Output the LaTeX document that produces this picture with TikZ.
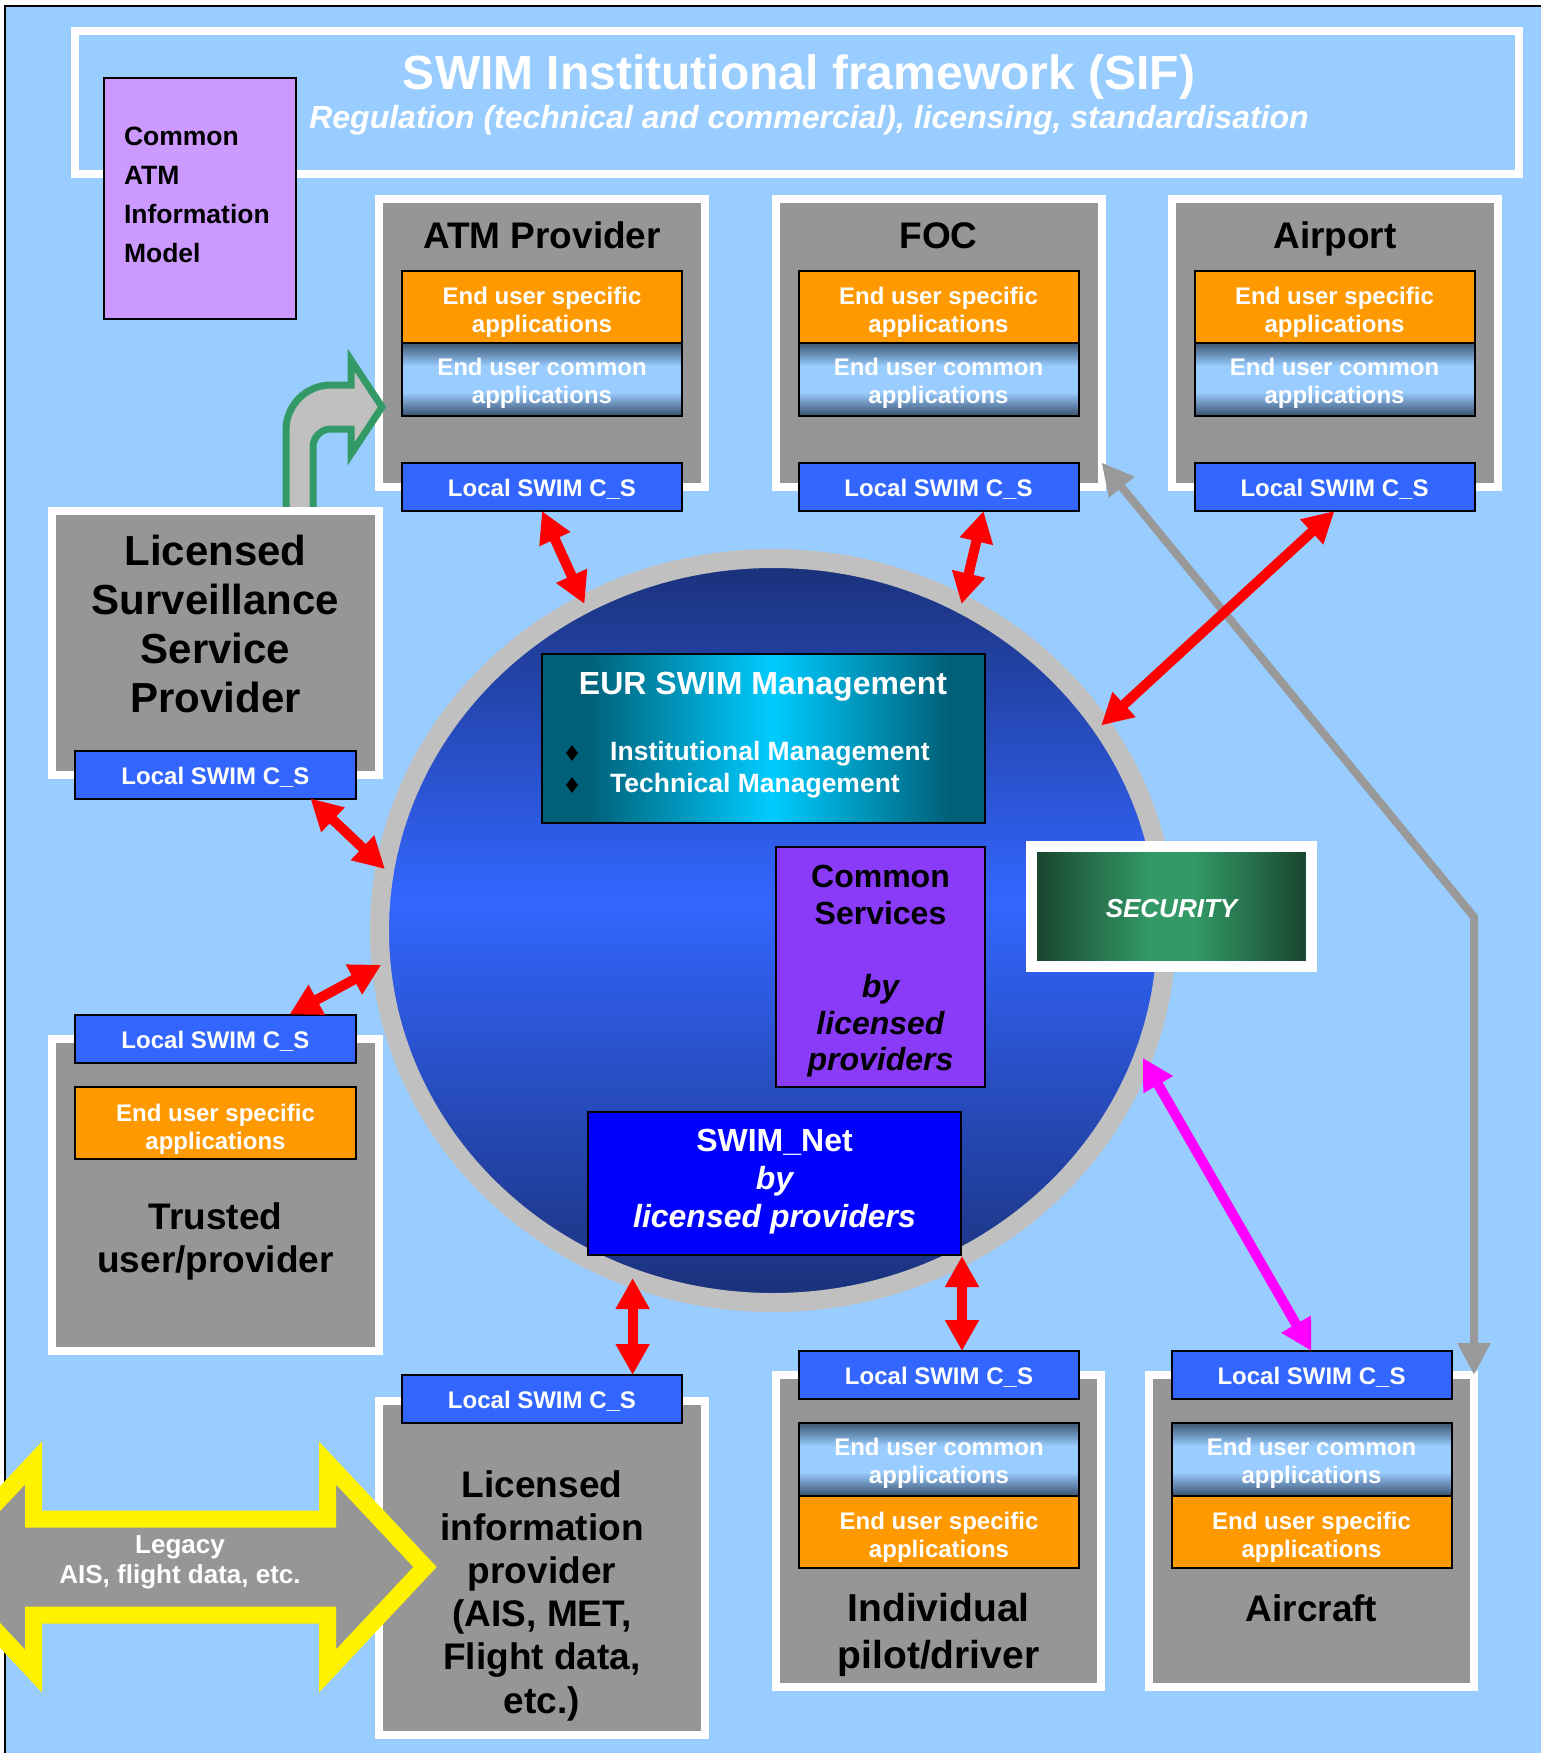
\documentclass[tikz,border=0pt]{standalone}
\usepackage{fontspec}
\setmainfont{Liberation Sans}
\usepackage{xcolor}
\usepackage{tikz}
\usetikzlibrary{positioning, shapes.geometric, arrows.meta}

\definecolor{skyblue}{HTML}{99CCFF}
\definecolor{panelgray}{HTML}{969696}
\definecolor{apporange}{HTML}{FF9900}
\definecolor{localblue}{HTML}{3366FF}
\definecolor{lavender}{HTML}{CC99FF}
\definecolor{srvpurple}{RGB}{137,59,247}
\definecolor{netblue}{HTML}{0000FF}
\definecolor{ringgray}{HTML}{C0C0C0}
\definecolor{orbdark}{HTML}{1A3078}
\definecolor{orbbright}{HTML}{3366FF}
\definecolor{eurdark}{HTML}{006078}
\definecolor{eurcyan}{HTML}{00CCFF}
\definecolor{secdark}{HTML}{1B4A33}
\definecolor{seclight}{HTML}{339966}
\definecolor{appdark}{HTML}{3B5270}
\definecolor{applight}{HTML}{99CCFF}
\definecolor{bentgreen}{HTML}{339966}
\definecolor{linkgray}{HTML}{999999}
\definecolor{linkred}{HTML}{FF0000}
\definecolor{linkpink}{HTML}{FF00FF}

\pgfdeclareverticalshading{orbshade}{100bp}{color(0bp)=(orbdark); color(25bp)=(orbdark); color(52bp)=(orbbright); color(75bp)=(orbdark); color(100bp)=(orbdark)}
\pgfdeclareverticalshading{appshade}{100bp}{color(0bp)=(appdark); color(25bp)=(appdark); color(41bp)=(applight); color(59bp)=(applight); color(75bp)=(appdark); color(100bp)=(appdark)}
\pgfdeclarehorizontalshading{eurshade}{100bp}{color(0bp)=(eurdark); color(30bp)=(eurdark); color(51bp)=(eurcyan); color(71bp)=(eurdark); color(100bp)=(eurdark)}
\pgfdeclarehorizontalshading{secshade}{100bp}{color(0bp)=(secdark); color(27bp)=(secdark); color(46bp)=(seclight); color(54bp)=(seclight); color(73bp)=(secdark); color(100bp)=(secdark)}

\begin{document}
\begin{tikzpicture}[x=1pt, y=-1pt]
	\tikzstyle{panel}=[rectangle, fill=panelgray, draw=white, line width=8pt, inner sep=0pt, outer sep=0pt]
	\tikzstyle{localbox}=[rectangle, fill=localblue, draw=black, line width=2pt, minimum width=280pt, minimum height=48pt, inner sep=0pt, outer sep=0pt, text=white, text height=22pt, font=\fontsize{24pt}{28pt}\selectfont\bfseries]
	\tikzstyle{specificapp}=[rectangle, fill=apporange, draw=black, line width=2pt, minimum width=280pt, minimum height=72pt, inner sep=0pt, outer sep=0pt, align=center, text=white, text height=57pt, font=\fontsize{24pt}{28pt}\selectfont\bfseries]
	\tikzstyle{commonapp}=[rectangle, shade, shading=appshade, draw=black, line width=2pt, minimum width=280pt, minimum height=73pt, inner sep=0pt, outer sep=0pt, align=center, text=white, text height=54.5pt, font=\fontsize{24pt}{28pt}\selectfont\bfseries]
	\tikzstyle{heading}=[align=center, text=black, font=\fontsize{37pt}{44pt}\selectfont\bfseries]
	\tikzstyle{redlink}=[color=linkred, line width=10pt, {Triangle[width=32pt,length=31pt]}-{Triangle[width=32pt,length=31pt]}]

	\useasboundingbox (0,0) rectangle (1541,1753);
	\clip (0,0) rectangle (1541,1753);
	\fill[white] (0,0) rectangle (1541,1753);
	\draw[fill=skyblue, line width=2pt] (5,6) rectangle (1560,1770);

	% institutional framework banner
	\node[draw=white, line width=8pt, minimum width=1444pt, minimum height=143pt, inner sep=0pt, outer sep=0pt] (sif) at (797,102.5) {};
	\node[anchor=base, text=white, font=\fontsize{48pt}{56pt}\selectfont\bfseries] (siftitle) at (799,89) {SWIM Institutional framework (SIF)};
	\node[anchor=base, text=white, font=\fontsize{32pt}{36pt}\selectfont\bfseries\itshape] (sifsub) at (809,128) {Regulation (technical and commercial), licensing, standardisation};
	\node[draw=black, line width=2pt, fill=lavender, minimum width=192pt, minimum height=241pt, text width=152pt, inner sep=20pt, align=left, font=\fontsize{26.5pt}{39pt}\selectfont\bfseries] (caim) at (200,198.5) {Common\\ATM\\Information\\Model\rule[-8pt]{0pt}{8pt}};

	% SWIM core
	\node[ellipse, draw=ringgray, line width=19pt, shade, shading=orbshade, minimum width=787pt, minimum height=744pt, inner sep=0pt, outer sep=0pt] (orb) at (773,930.5) {};
	\node[draw=black, line width=2.5pt, shade, shading=eurshade, minimum width=443pt, minimum height=169pt, inner sep=0pt] (eur) at (763.5,738.5) {};
	\node[anchor=base, text=white, font=\fontsize{32pt}{36pt}\selectfont\bfseries] (eurtitle) at (763,694) {EUR SWIM Management};
	\node[diamond, fill=black, minimum width=12pt, minimum height=16pt, inner sep=0pt] (bullet1) at (572,753) {};
	\node[diamond, fill=black, minimum width=12pt, minimum height=16pt, inner sep=0pt] (bullet2) at (572,785) {};
	\node[anchor=base west, inner sep=0pt, text=white, font=\fontsize{26.5pt}{32pt}\selectfont\bfseries] (instmgmt) at (610,760) {Institutional Management};
	\node[anchor=base west, inner sep=0pt, text=white, font=\fontsize{26.5pt}{32pt}\selectfont\bfseries] (techmgmt) at (610,792) {Technical Management};
	\node[draw=black, line width=2pt, fill=srvpurple, minimum width=209pt, minimum height=240pt, inner sep=0pt, align=center, text height=214pt, font=\fontsize{32pt}{36.6pt}\selectfont\bfseries] (commonsrv) at (880.5,967) {Common\\Services\\[36.6pt]\itshape by\\\itshape licensed\\\itshape providers};
	\node[draw=black, line width=2pt, fill=netblue, minimum width=373pt, minimum height=143pt, inner sep=0pt, align=center, text=white, text depth=11pt, font=\fontsize{32pt}{38pt}\selectfont\bfseries] (swimnet) at (774.5,1183.5) {SWIM\_Net\\\itshape by\\\itshape licensed providers};
	\node[draw=white, line width=11pt, shade, shading=secshade, minimum width=280pt, minimum height=120pt, inner sep=0pt, text=white, text height=23pt, font=\fontsize{26pt}{30pt}\selectfont\bfseries\itshape] (security) at (1171.5,906.5) {SECURITY};

	% ATM provider
	\node[panel, minimum width=326pt, minimum height=288pt] (atm) at (542,342.5) {};
	\node[heading, anchor=base] (atmtitle) at (542,248) {ATM Provider};
	\node[specificapp] (atmspec) at (542,306.5) {End user specific\\applications};
	\node[commonapp, below=0pt of atmspec] (atmcom) {End user common\\applications};
	\node[localbox] (atmcs) at (542,487) {Local SWIM C\_S};

	% FOC
	\node[panel, minimum width=326pt, minimum height=288pt] (foc) at (938.5,342.5) {};
	\node[heading, anchor=base] (foctitle) at (938.5,248) {FOC};
	\node[specificapp] (focspec) at (938.5,306.5) {End user specific\\applications};
	\node[commonapp, below=0pt of focspec] (foccom) {End user common\\applications};
	\node[localbox] (foccs) at (938.5,487) {Local SWIM C\_S};

	% Airport
	\node[panel, minimum width=326pt, minimum height=288pt] (airport) at (1335,342.5) {};
	\node[heading, anchor=base] (aptitle) at (1335,248) {Airport};
	\node[specificapp] (apspec) at (1334.5,306.5) {End user specific\\applications};
	\node[commonapp, below=0pt of apspec] (apcom) {End user common\\applications};
	\node[localbox] (apcs) at (1334.5,487) {Local SWIM C\_S};

	% bent arrow from surveillance provider
	\draw[draw=bentgreen, fill=ringgray, line width=7pt] (286,530) -- (286,430) arc(180:270:45) -- (351,385) -- (351,360) -- (382,407) -- (351,454) -- (351,429) -- (331,429) arc(270:180:18) -- (313,530) -- cycle;

	% licensed surveillance service provider
	\node[panel, minimum width=327pt, minimum height=264pt] (lssp) at (215.5,642.75) {};
	\node[heading, font=\fontsize{42pt}{49pt}\selectfont\bfseries] (lssptext) at (215.5,623.5) {Licensed\\Surveillance\\Service\\Provider};
	\node[localbox, minimum width=281pt] (lsspcs) at (215.5,774.5) {Local SWIM C\_S};

	% trusted user
	\node[panel, minimum width=327pt, minimum height=312pt] (trusted) at (215.5,1195) {};
	\node[localbox, minimum width=281pt] (trcs) at (215.5,1038.5) {Local SWIM C\_S};
	\node[specificapp, minimum width=281pt] (trspec) at (215.5,1123) {End user specific\\applications};
	\node[heading, font=\fontsize{37pt}{42.5pt}\selectfont\bfseries] (trtext) at (215.5,1241.5) {Trusted\\user/provider};

	% licensed information provider
	\node[panel, minimum width=326pt, minimum height=334pt] (lip) at (542,1568) {};
	\node[localbox] (lipcs) at (542,1399) {Local SWIM C\_S};
	\node[heading, font=\fontsize{37pt}{43.2pt}\selectfont\bfseries] (liptext) at (542,1595.5) {Licensed\\information\\provider\\(AIS, MET,\\Flight data,\\etc.)};

	% individual pilot
	\node[panel, minimum width=325pt, minimum height=312pt] (indiv) at (938.5,1531) {};
	\node[localbox] (indcs) at (939,1375) {Local SWIM C\_S};
	\node[commonapp] (indcom) at (939,1459) {End user common\\applications};
	\node[specificapp, below=0pt of indcom] (indspec) {End user specific\\applications};
	\node[heading, font=\fontsize{39pt}{47pt}\selectfont\bfseries] (indtext) at (938.5,1634.5) {Individual\\pilot/driver};

	% aircraft
	\node[panel, minimum width=325pt, minimum height=312pt] (aircraft) at (1311.5,1531) {};
	\node[localbox] (aircs) at (1311.5,1375) {Local SWIM C\_S};
	\node[commonapp] (aircom) at (1311.5,1459) {End user common\\applications};
	\node[specificapp, below=0pt of aircom] (airspec) {End user specific\\applications};
	\node[heading] (airtext) at (1311.5,1608) {Aircraft};

	% legacy double arrow
	\draw[draw=yellow, fill=panelgray, line width=17pt, miter limit=4] (33.5,1519) -- (327.5,1519) -- (327.5,1463) -- (425,1567) -- (327.5,1671) -- (327.5,1615) -- (33.5,1615) -- (33.5,1671) -- (-64,1567) -- (33.5,1463) -- cycle;
	\node[align=center, text=white, font=\fontsize{26pt}{30pt}\selectfont\bfseries] (legacy) at (180,1562.5) {Legacy\\AIS, flight data, etc.};

	% connectors
	\coordinate (kink) at (1474,917);
	\draw[color=linkgray, line width=8pt, {Triangle[width=31pt,length=32pt]}-{Triangle[width=31pt,length=32pt]}] ([yshift=24pt]foc.south east) -- (kink) -- (aircraft.north east);
	\path[redlink]
		(atmcs.south) edge (orb.120)
		([xshift=45pt]foccs.south) edge (orb.60)
		(apcs.south) edge (orb.32)
		([xshift=95pt]lsspcs.south) edge (orb.171)
		([xshift=74pt]trcs.north) edge (orb.185)
		(orb.248) edge (orb.248 |- lipcs.north)
		(swimnet.south east) edge (swimnet.south east |- indcs.north);
	\path[redlink, color=linkpink]
		(aircs.north) edge (orb.-19);
\end{tikzpicture}
\end{document}
